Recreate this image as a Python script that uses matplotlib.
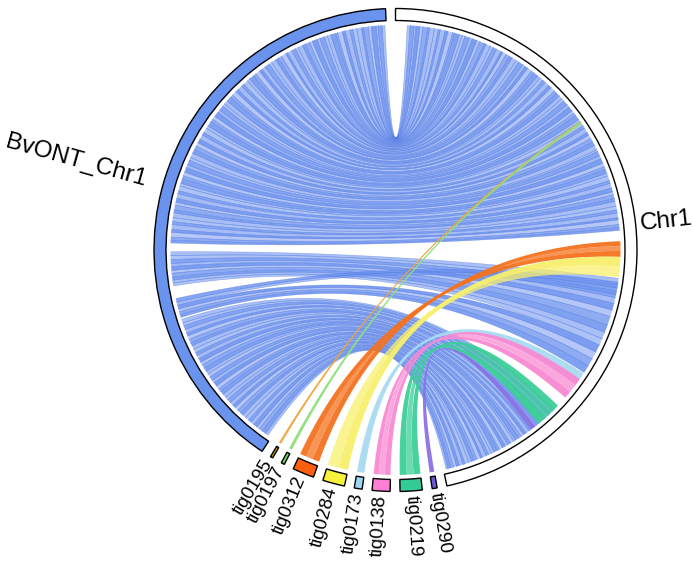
import numpy as np
import matplotlib.pyplot as plt
from matplotlib.patches import Wedge, Polygon

# sectors, clockwise from 12 o'clock
sectors = ["Chr1", "tig0290", "tig0219", "tig0138", "tig0173",
           "tig0284", "tig0312", "tig0197", "tig0195", "BvONT_Chr1"]
lengths = [67.08, 0.48, 2.12, 1.72, 0.76, 2.12, 2.08, 0.32, 0.24, 57.64]  # Mb
sector_colors = ["white", "#6b5bd6", "#33cc96", "#ff80d4", "#9fd6f2",
                 "#f7f23c", "#ff5e0e", "#6bd95a", "#cc9c1e", "#6a93ee"]

# synteny BvONT_Chr1 -> Chr1, breakpoints (bv Mb, chr Mb)
upper_breaks = [(57.5, 1.2), (57.2, 1.5), (56.8, 1.9), (56.6, 2.1), (56.1, 2.5),
                (55.8, 2.8), (55.3, 3.3), (55.1, 3.5), (54.6, 4.0), (54.2, 4.4),
                (53.9, 4.6), (53.4, 5.1), (53.1, 5.4), (52.6, 5.9), (52.4, 6.1),
                (51.9, 6.6), (51.5, 6.9), (51.2, 7.2), (50.7, 7.7), (50.4, 8.0),
                (49.9, 8.5), (49.6, 8.8), (49.1, 9.3), (48.8, 9.5), (48.3, 10.0),
                (48.0, 10.3), (47.6, 10.7), (47.1, 11.2), (46.9, 11.4), (46.4, 11.8),
                (46.0, 12.2), (45.7, 12.5), (45.2, 13.0), (44.9, 13.3), (44.4, 13.8),
                (44.0, 14.1), (43.7, 14.4), (43.2, 14.9), (42.9, 15.2), (42.4, 15.7),
                (42.1, 16.0), (41.6, 16.4), (41.3, 16.7), (40.8, 17.2), (40.5, 17.5),
                (40.0, 18.0), (39.7, 18.3), (39.2, 18.7), (38.8, 19.1), (38.5, 19.4),
                (38.0, 19.9), (37.7, 20.2), (37.2, 20.7), (36.8, 21.0), (36.5, 21.3),
                (36.0, 21.8), (35.7, 22.1), (35.2, 22.6), (34.9, 22.9), (34.4, 23.4),
                (34.0, 23.7), (33.6, 24.1), (33.2, 24.5), (32.8, 24.9), (32.3, 25.4),
                (32.0, 25.6), (31.5, 26.1), (31.2, 26.4), (30.7, 26.9), (30.3, 27.3),
                (30.0, 27.6), (29.5, 28.0), (29.2, 28.3), (28.7, 28.8), (28.4, 29.1),
                (27.9, 29.6), (27.5, 30.0), (27.2, 30.3), (26.7, 30.7), (26.4, 31.0),
                (25.9, 31.5), (25.5, 31.9), (25.2, 32.2), (24.7, 32.7), (24.4, 32.9),
                (23.9, 33.4), (23.6, 33.7), (23.3, 34.0)]
# middle part: (bv_start, bv_end, chr_start, chr_end)
mid_blocks = [(22.4, 22.0, 38.9, 39.6), (22.0, 21.6, 39.6, 40.2),
              (21.6, 21.2, 40.2, 40.9), (21.2, 20.9, 40.9, 41.5),
              (20.9, 20.5, 41.5, 42.2), (20.5, 20.2, 42.2, 42.9),
              (20.2, 19.8, 42.9, 43.8), (19.8, 19.5, 43.8, 44.6),
              (19.5, 19.2, 44.6, 45.3), (19.2, 18.9, 45.3, 46.0),
              (17.6, 17.2, 39.3, 39.9), (17.2, 16.9, 39.9, 40.6),
              (16.9, 16.5, 46.0, 46.8), (16.5, 16.2, 46.8, 47.6),
              (16.2, 15.9, 47.6, 48.4), (15.9, 15.6, 48.4, 49.2)]
# lower part (the dome), breakpoints (bv Mb, chr Mb)
lower_breaks = [(15.4, 54.0), (15.0, 54.3), (14.7, 54.6), (14.3, 54.9), (13.9, 55.3),
                (13.6, 55.5), (13.2, 55.9), (12.8, 56.2), (12.5, 56.5), (12.1, 56.8),
                (11.7, 57.2), (11.4, 57.4), (11.0, 57.8), (10.6, 58.1), (10.3, 58.4),
                (9.9, 58.7), (9.5, 59.1), (9.2, 59.3), (8.8, 59.7), (8.4, 60.0),
                (8.1, 60.3), (7.7, 60.6), (7.3, 61.0), (7.0, 61.2), (6.6, 61.6),
                (6.2, 61.9), (5.9, 62.2), (5.5, 62.5), (5.1, 62.9), (4.8, 63.1),
                (4.4, 63.5), (4.0, 63.8), (3.7, 64.1), (3.3, 64.4), (2.9, 64.8),
                (2.6, 65.0), (2.2, 65.4), (1.8, 65.7), (1.5, 66.0), (1.1, 66.3),
                (0.7, 66.6), (0.4, 66.8)]

# contigs -> Chr1: (tig_start, tig_end, chr_start, chr_end)
tig_links = {
    "tig0195": [(0.0, 0.24, 22.05, 22.3)],
    "tig0197": [(0.0, 0.32, 22.1, 22.35)],
    "tig0312": [(0.0, 0.7, 35.1, 35.6), (0.7, 1.4, 35.6, 36.1), (1.4, 2.08, 36.1, 36.7)],
    "tig0284": [(0.0, 1.0, 36.7, 37.7), (1.0, 2.12, 37.7, 38.8)],
    "tig0173": [(0.0, 0.76, 49.3, 50.6)],
    "tig0138": [(0.0, 0.6, 50.0, 50.8), (0.6, 1.2, 50.8, 51.6), (1.2, 1.72, 51.6, 52.4)],
    "tig0219": [(0.0, 0.7, 53.5, 54.4), (0.7, 1.4, 54.4, 55.3), (1.4, 2.12, 55.3, 56.2)],
    "tig0290": [(0.0, 0.48, 56.6, 57.2)],
}
link_colors = {"tig0195": "#f0a33a", "tig0197": "#8fe07a", "tig0312": "#f5721e",
               "tig0284": "#f8f06c", "tig0173": "#a8daf2", "tig0138": "#f98ad3",
               "tig0219": "#3ccf98", "tig0290": "#8a72e6"}

GAP = 2.36
scale = (360 - GAP * len(sectors)) / sum(lengths)
starts = {}
a = 90.0
for name, ln in zip(sectors, lengths):
    starts[name] = a
    a -= ln * scale + GAP


def ang(name, pos):
    return starts[name] - pos * scale


def arc(t1, t2, r, n=30):
    t = np.radians(np.linspace(t1, t2, n))
    return np.column_stack([r * np.cos(t), r * np.sin(t)])


def bez(t1, t2, r=1.0, n=60):
    p0 = r * np.array([np.cos(np.radians(t1)), np.sin(np.radians(t1))])
    p2 = r * np.array([np.cos(np.radians(t2)), np.sin(np.radians(t2))])
    s = np.linspace(0, 1, n)[:, None]
    return (1 - s) ** 2 * p0 + s ** 2 * p2


def ribbon(ax, a1, a2, b1, b2, color, alpha, lw=0.0, ec=None, z=2):
    alo, ahi = sorted([a1, a2])
    bs = []
    for b in (b1, b2):
        while b <= ahi:
            b += 360
        while b > alo + 360:
            b -= 360
        bs.append(b)
    blo, bhi = sorted(bs)
    pts = np.vstack([arc(alo, ahi, 1.0), bez(ahi, blo), arc(blo, bhi, 1.0), bez(bhi, alo)])
    ax.add_patch(Polygon(pts, closed=True, facecolor=color, alpha=alpha,
                         edgecolor="none", zorder=z))
    if lw > 0:
        for e in (bez(ahi, blo), bez(bhi, alo)):
            ax.plot(e[:, 0], e[:, 1], color=ec, lw=lw, alpha=0.5, zorder=z)


fig = plt.figure(figsize=(6.92, 5.61), dpi=100)
ax = fig.add_axes([0, 0, 1, 1])
R = 225.0
ax.set_xlim(-395.5 / R, (692 - 395.5) / R)
ax.set_ylim(-311 / R, 250 / R)
ax.axis("off")

blue = "#6a90ee"
blocks = []
for (p1, q1), (p2, q2) in zip(upper_breaks[:-1], upper_breaks[1:]):
    blocks.append((p1, p2, q1, q2))
blocks += mid_blocks
for (p1, q1), (p2, q2) in zip(lower_breaks[:-1], lower_breaks[1:]):
    blocks.append((p1, p2, q1, q2))
shades = [0.55, 0.82, 0.6, 0.88, 0.5, 0.75, 0.85, 0.58]
for i, (p1, p2, q1, q2) in enumerate(blocks):
    ribbon(ax, ang("BvONT_Chr1", p1), ang("BvONT_Chr1", p2),
           ang("Chr1", q1), ang("Chr1", q2), blue,
           shades[i % len(shades)], lw=0.4, ec="#4a74e2")

for tig, links in tig_links.items():
    for j, (p1, p2, q1, q2) in enumerate(links):
        ribbon(ax, ang(tig, p1), ang(tig, p2), ang("Chr1", q1), ang("Chr1", q2),
               link_colors[tig], 0.95 if j % 2 == 0 else 0.75, z=3)

# ideogram
for name, ln, col in zip(sectors, lengths, sector_colors):
    t1 = starts[name]
    t2 = t1 - ln * scale
    ax.add_patch(Wedge((0, 0), 241.5 / R, t2, t1, width=12 / R,
                       facecolor=col, edgecolor="black", lw=1.0, zorder=4))
    mid = (t1 + t2) / 2
    big = name in ("Chr1", "BvONT_Chr1")
    r_lab = 1.153 if name == "BvONT_Chr1" else 1.092
    x, y = r_lab * np.cos(np.radians(mid)), r_lab * np.sin(np.radians(mid))
    cm = np.cos(np.radians(mid))
    rot = mid if cm > 0 else mid - 180
    ax.text(x, y, name, rotation=rot, rotation_mode="anchor",
            ha="left" if cm > 0 else "right", va="center",
            fontsize=17.5 if big else 13.5, family="Liberation Sans", zorder=5)

fig.savefig("out.png", dpi=100)
